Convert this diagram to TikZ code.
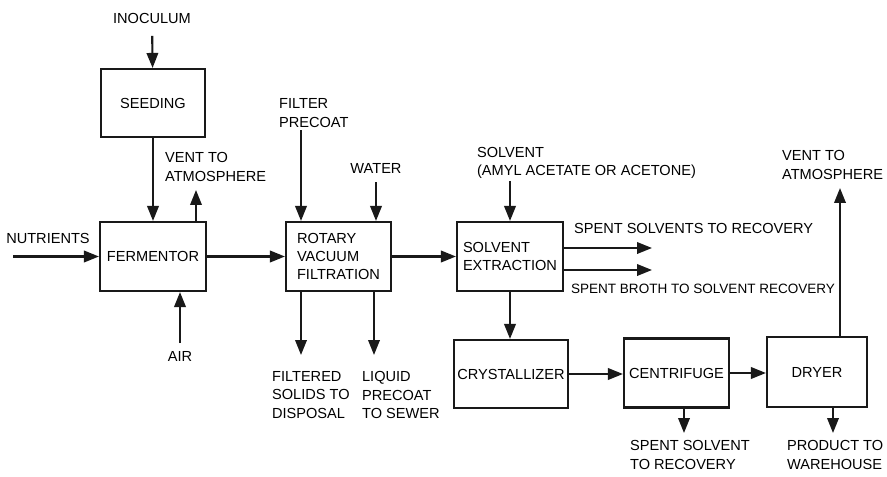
\documentclass[tikz,border=0pt]{standalone}
\usepackage{fontspec}
\setmainfont{Liberation Sans}
\usepackage{tikz}
\usetikzlibrary{arrows.meta,positioning}
\definecolor{inkc}{RGB}{25,25,25}

\begin{document}
\begin{tikzpicture}[x=0.02cm,y=-0.02cm,font=\fontsize{8.3}{10.5}\selectfont,
  unit/.style={draw=inkc,line width=1.2pt,minimum width=2.1cm,minimum height=1.38cm,align=left,inner sep=2pt,text=black},
  lab/.style={align=left,inner sep=1pt,text=black},
  flow/.style={draw=inkc,line width=1.2pt,-{Triangle[length=3mm,width=2.3mm]}}]
\useasboundingbox (0,0) rectangle (887,477);
% --- fermentation train ---
\node[lab] (inoc) at (152,18) {INOCULUM};
\node[unit,minimum width=2.08cm,minimum height=1.36cm] (seed) at (153,103) {SEEDING};
\node[unit,minimum width=2.12cm] (ferm) at (153,256.5) {FERMENTOR};
\node[lab] (nutr) at (48,238) {NUTRIENTS};
\node[lab] (air) at (180,356) {AIR};
\node[lab,anchor=west] (vent1) at (163,167) {VENT TO\\ATMOSPHERE};
\coordinate (nutrin) at (13,256.5);
\coordinate (airin) at (180,343);
\coordinate (ventout) at (196,190);
\draw[flow,shorten <=6pt] (inoc) -- (seed);
\draw[flow] (seed) -- (ferm);
\draw[flow] (nutrin) -- (ferm);
\draw[flow] (airin) -- (ferm.south -| airin);
\draw[flow] (ferm.north -| ventout) -- (ventout);
% --- filtration ---
\node[unit] (rvf) at (338.5,256.5) {ROTARY\\VACUUM\\FILTRATION};
\node[lab,anchor=west] (precoat) at (277,113) {FILTER\\PRECOAT};
\node[lab] (water) at (376,168) {WATER};
\node[lab,anchor=west] (filt) at (270,395) {FILTERED\\SOLIDS TO\\DISPOSAL};
\node[lab,anchor=west] (liq) at (360,395) {LIQUID\\PRECOAT\\TO SEWER};
\coordinate (pcin) at (301,130);
\coordinate (filtout) at (301,355);
\coordinate (liqout) at (374,355);
\draw[flow] (ferm) -- (rvf);
\draw[flow] (pcin) -- (rvf.north -| pcin);
\draw[flow,shorten <=4pt] (water.south) -- (rvf.north -| water.south);
\draw[flow] (rvf.south -| filtout) -- (filtout);
\draw[flow] (rvf.south -| liqout) -- (liqout);
% --- extraction ---
\node[unit,minimum width=2.12cm] (sx) at (510,256.5) {SOLVENT\\EXTRACTION};
\node[lab,anchor=west] (solv) at (475,163) {SOLVENT\\(AMYL ACETATE OR ACETONE)};
\node[lab,anchor=west] (spsolv) at (572,228) {SPENT SOLVENTS TO RECOVERY};
\node[lab,anchor=west,font=\fontsize{7.7}{10}\selectfont] (spbroth) at (569,289) {SPENT BROTH TO SOLVENT RECOVERY};
\coordinate (so1) at (652,248);
\coordinate (so2) at (652,270);
\draw[flow] (rvf) -- (sx);
\draw[flow] (solv.south -| sx) -- (sx);
\draw[flow] (sx.east |- so1) -- (so1);
\draw[flow] (sx.east |- so2) -- (so2);
% --- recovery of product ---
\node[unit,minimum width=2.16cm,minimum height=1.36cm] (cryst) at (511,374) {CRYSTALLIZER};
\node[unit] (cent) at (676.5,373) {CENTRIFUGE};
\node[unit,minimum width=2.0cm,minimum height=1.4cm,align=center] (dry) at (817,372) {DRYER};
\node[lab,anchor=west] (spsolv2) at (628,455) {SPENT SOLVENT\\TO RECOVERY};
\node[lab,anchor=west] (prod) at (785,455) {PRODUCT TO\\WAREHOUSE};
\node[lab,anchor=west] (vent2) at (780,165) {VENT TO\\ATMOSPHERE};
\coordinate (centout) at (684,433);
\coordinate (dryout) at (833,433);
\coordinate (dryvent) at (840,188);
\draw[flow] (sx.south) -- (sx.south |- cryst.north);
\draw[flow] (cryst) -- (cent.west |- cryst);
\draw[flow] (cent) -- (dry.west |- cent);
\draw[flow] (cent.south -| centout) -- (centout);
\draw[flow] (dry.south -| dryout) -- (dryout);
\draw[flow] (dry.north -| dryvent) -- (dryvent);
\end{tikzpicture}
\end{document}
